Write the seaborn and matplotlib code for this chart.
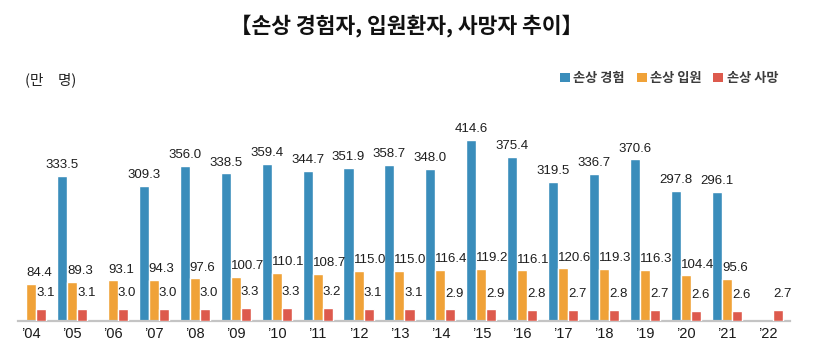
import numpy as np
import pandas as pd
import matplotlib
matplotlib.use("Agg")
import matplotlib.pyplot as plt
from matplotlib.patches import Patch
import seaborn as sns

# Injury statistics, unit: 10,000 persons
years = ["\u201904", "\u201905", "\u201906", "\u201907", "\u201908", "\u201909", "\u201910",
         "\u201911", "\u201912", "\u201913", "\u201914", "\u201915", "\u201916", "\u201917",
         "\u201918", "\u201919", "\u201920", "\u201921", "\u201922"]
experienced = [np.nan, 333.5, np.nan, 309.3, 356.0, 338.5, 359.4, 344.7, 351.9, 358.7,
               348.0, 414.6, 375.4, 319.5, 336.7, 370.6, 297.8, 296.1, np.nan]
hospitalized = [84.4, 89.3, 93.1, 94.3, 97.6, 100.7, 110.1, 108.7, 115.0, 115.0,
                116.4, 119.2, 116.1, 120.6, 119.3, 116.3, 104.4, 95.6, np.nan]
deaths = [3.1, 3.1, 3.0, 3.0, 3.0, 3.3, 3.3, 3.2, 3.1, 3.1,
          2.9, 2.9, 2.8, 2.7, 2.8, 2.7, 2.6, 2.6, 2.7]

series_names = ["손상 경험", "손상 입원", "손상 사망"]
colors = {"손상 경험": "#3A8DBB", "손상 입원": "#F0A238", "손상 사망": "#DD5A4D"}

sns.set_theme(style="white")
NUM_FONT = ["Liberation Sans", "DejaVu Sans"]
KR_FONT = ["Noto Sans CJK KR", "DejaVu Sans"]
plt.rcParams["font.family"] = KR_FONT

main = pd.DataFrame({
    "year": years * 2,
    "series": [series_names[0]] * len(years) + [series_names[1]] * len(years),
    "value": experienced + hospitalized,
}).dropna()
death_df = pd.DataFrame({"year": years, "series": series_names[2], "value": deaths})

W, H = 815, 348
fig = plt.figure(figsize=(W / 100, H / 100), dpi=100)
ax = fig.add_axes([18 / W, 27 / H, (790 - 18) / W, 221 / H])
ax2 = ax.twinx()

bar_width = 0.735
common = dict(x="year", y="value", hue="series", order=years, hue_order=series_names,
              palette=colors, width=bar_width, dodge=True, saturation=1,
              legend=False, errorbar=None)
sns.barplot(data=main, ax=ax, **common)
# deaths use their own (hidden) scale on a twin axis
sns.barplot(data=death_df, ax=ax2, **common)

ax.set_ylim(0, 221 / 0.436)
ax2.set_ylim(0, 221 / 4.0)
ax.set_xlim(-0.318, 18.54)
ax2.set_xlim(-0.318, 18.54)

for a in (ax, ax2):
    a.set_yticks([])
    a.set_ylabel("")
    a.set_xlabel("")
    for s in ("top", "right", "left"):
        a.spines[s].set_visible(False)
ax2.spines["bottom"].set_visible(False)
ax.spines["bottom"].set_color("#C4C4C4")
ax.spines["bottom"].set_linewidth(1.6)

ax.tick_params(axis="x", length=0, pad=4)
ax.set_xticks(range(len(years)))
ax.set_xticklabels(years, family=NUM_FONT, fontsize=10.5, color="#1A1A1A")

label_kw = dict(textcoords="offset points", va="bottom",
                family=NUM_FONT, fontsize=9.5, color="#1E1E1E")


def label_bars(axis, container, centered, dy):
    for bar in container:
        h = bar.get_height()
        if np.isnan(h):
            continue
        if centered:
            x, ha = bar.get_x() + bar.get_width() / 2, "center"
        else:
            x, ha = bar.get_x(), "left"
        axis.annotate(f"{h:.1f}", (x, h), xytext=(0, dy), ha=ha, **label_kw)


def color_of(container):
    return container[0].get_facecolor() if len(container) else None


for cont in ax.containers:
    if not len(cont):
        continue
    is_exp = np.allclose(color_of(cont)[:3], matplotlib.colors.to_rgb(colors[series_names[0]]))
    label_bars(ax, cont, is_exp, 3.5)
# death labels on the secondary axis
for cont in ax2.containers:
    if len(cont):
        label_bars(ax2, cont, False, 7)

fig.text(406 / W, 1 - 26 / H, "【손상 경험자, 입원환자, 사망자 추이】",
         ha="center", va="center", fontsize=15.5, fontweight="bold",
         family=KR_FONT, color="#111111")
fig.text(25 / W, 1 - 80 / H, "(만\u3000명)", ha="left", va="center",
         fontsize=10.5, family=KR_FONT, color="#222222")

handles = [Patch(facecolor=colors[n], edgecolor="none") for n in series_names]
fig.legend(handles, series_names, loc="center right",
           bbox_to_anchor=(790 / W, 1 - 78 / H), ncol=3, frameon=False,
           handlelength=0.75, handleheight=0.75, handletextpad=0.25,
           columnspacing=0.9, prop={"family": KR_FONT, "size": 9.5, "weight": "bold"},
           labelcolor="#3C3C3C")

fig.savefig("out.png", dpi=100)
